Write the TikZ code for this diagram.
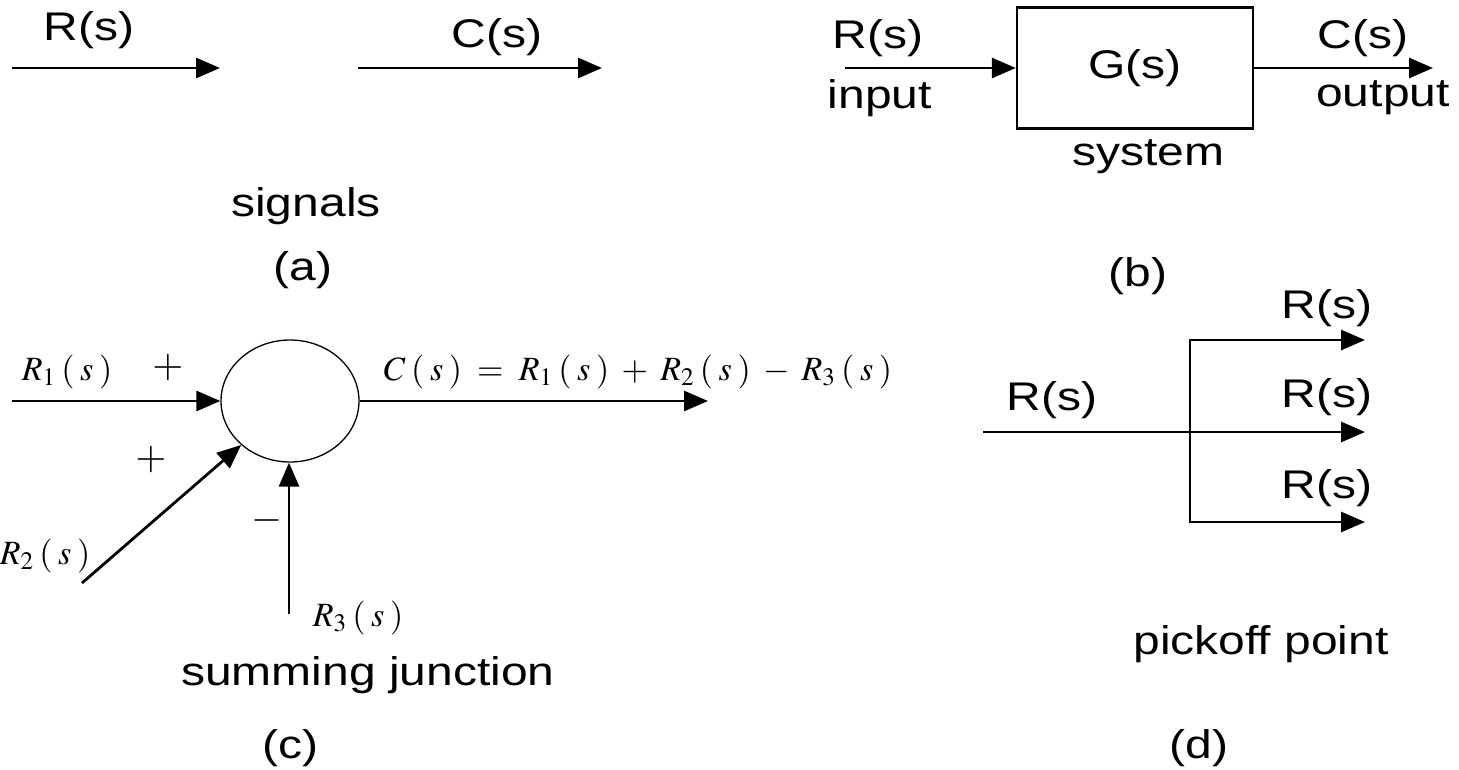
\documentclass[tikz,border=0pt]{standalone}
\usepackage{mathptmx}
\usepackage[no-math]{fontspec}
\setmainfont{Liberation Sans}[FakeStretch=1.2]
\usetikzlibrary{arrows.meta,shapes.geometric}
\tikzset{
  sig/.style={line width=2.8pt,-{Triangle[length=24pt,width=20pt]}},
  wire/.style={line width=2.8pt},
  lab/.style={inner sep=0pt,font=\fontsize{40}{46}\selectfont},
  mlab/.style={inner sep=0pt,font=\fontsize{34}{40}\selectfont},
  sgn/.style={inner sep=0pt,font=\fontsize{40}{46}\selectfont},
  blk/.style={draw,line width=2.4pt,minimum width=236pt,minimum height=121pt,inner sep=0pt,font=\fontsize{40}{46}\selectfont},
  sumj/.style={draw,ellipse,line width=1.3pt,minimum width=138pt,minimum height=122pt,inner sep=0pt}
}
\newcommand{\tsp}{\mkern3mu}
\begin{document}
\begin{tikzpicture}[x=1pt,y=-1pt]
\useasboundingbox (0,0) rectangle (1459,769);
% (a) signals
\coordinate (a1s) at (12,68);
\coordinate (a1e) at (220,68);
\coordinate (a2s) at (358,68);
\coordinate (a2e) at (602,68);
\draw[sig] (a1s) -- (a1e);
\draw[sig] (a2s) -- (a2e);
\node[lab] (aR) at (89,30) {R(s)};
\node[lab] (aC) at (497,37) {C(s)};
\node[lab] (asig) at (306,206) {signals};
\node[lab] (alab) at (303,270) {(a)};
% (b) system
\node[blk] (G) at (1135,68) {G(s)};
\coordinate (bin) at (845,68);
\coordinate (bout) at (1433,68);
\draw[sig] (bin) -- (G.west);
\draw[sig] (G.east) -- (bout);
\node[lab] (bR) at (878,38) {R(s)};
\node[lab] (binp) at (880,98) {input};
\node[lab] (bC) at (1363,38) {C(s)};
\node[lab] (boutl) at (1383,98) {output};
\node[lab] (bsys) at (1148,157) {system};
\node[lab] (blab) at (1138,276) {(b)};
% (c) summing junction
\node[sumj] (sum) at (290,401) {};
\coordinate (r1) at (12,401);
\coordinate (r2) at (82,583);
\coordinate (r3) at (289,614);
\coordinate (cout) at (708,401);
\draw[sig] (r1) -- (sum.west);
\draw[sig] (r2) -- (sum.222);
\draw[sig] (r3) -- (r3 |- sum.south);
\draw[sig] (sum.east) -- (cout);
\node[mlab] (lr1) at (67,372) {$R_1\tsp(\tsp s\tsp)$};
\node[sgn] (p1) at (168,368) {$+$};
\node[sgn] (p2) at (151,460) {$+$};
\node[sgn] (m3) at (267,520) {$-$};
\node[mlab] (lr2) at (45,556) {$R_2\tsp(\tsp s\tsp)$};
\node[mlab] (lr3) at (358,618) {$R_3\tsp(\tsp s\tsp)$};
\node[mlab] (lc) at (638,372) {$C\tsp(\tsp s\tsp) \;=\; R_1\tsp(\tsp s\tsp) \;+\; R_2\tsp(\tsp s\tsp) \;-\; R_3\tsp(\tsp s\tsp)$};
\node[lab] (csum) at (368,675) {summing junction};
\node[lab] (clab) at (290,748) {(c)};
% (d) pickoff point
\coordinate (din) at (983,432);
\coordinate (pk) at (1190,432);
\coordinate (pt) at (1190,340);
\coordinate (pb) at (1190,522);
\coordinate (dt) at (1365,340);
\coordinate (dm) at (1365,432);
\coordinate (db) at (1365,522);
\draw[wire] (din) -- (pk);
\draw[sig] (pk) -- (dm);
\draw[sig] (pt |- pk) -- (pt) -- (dt);
\draw[sig] (pb |- pk) -- (pb) -- (db);
\node[lab] (dR) at (1052,400) {R(s)};
\node[lab] (dR1) at (1327,308) {R(s)};
\node[lab] (dR2) at (1327,397) {R(s)};
\node[lab] (dR3) at (1327,488) {R(s)};
\node[lab] (dpick) at (1261,644) {pickoff point};
\node[lab] (dlab) at (1199,748) {(d)};
\end{tikzpicture}
\end{document}
